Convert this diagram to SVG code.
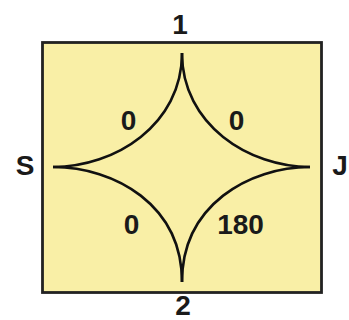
<svg xmlns="http://www.w3.org/2000/svg" width="349" height="320" viewBox="0 0 349 320">
<style>
.lbl{font-family:"Liberation Sans",Arial,sans-serif;font-weight:bold;font-size:28px;fill:#1a1a1a}
.cv{fill:none;stroke:#111;stroke-width:2.6}
</style>
<rect width="349" height="320" fill="#ffffff"/>
<g id="frame">
<rect x="42.5" y="42.5" width="279" height="250" fill="#F9EFA6" stroke="#222" stroke-width="2.8"/>
</g>
<g id="connectors">
<path class="cv" d="M182,53 C182,125 115,167 53,167"/>
<path class="cv" d="M182,53 C182,125 249,167 310,167"/>
<path class="cv" d="M182,282 C182,205 115,167 53,167"/>
<path class="cv" d="M182,282 C182,205 249,167 310,167"/>
</g>
<g id="node-1"><text class="lbl" x="180" y="34" text-anchor="middle">1</text></g>
<g id="node-2"><text class="lbl" x="183" y="315" text-anchor="middle">2</text></g>
<g id="node-S"><text class="lbl" x="25" y="175" text-anchor="middle">S</text></g>
<g id="node-J"><text class="lbl" x="340" y="175" text-anchor="middle">J</text></g>
<g id="labels">
<text class="lbl" x="128.5" y="130" text-anchor="middle">0</text>
<text class="lbl" x="236.5" y="130" text-anchor="middle">0</text>
<text class="lbl" x="131.5" y="234" text-anchor="middle">0</text>
<text class="lbl" x="240.5" y="234" text-anchor="middle">180</text>
</g>
</svg>
